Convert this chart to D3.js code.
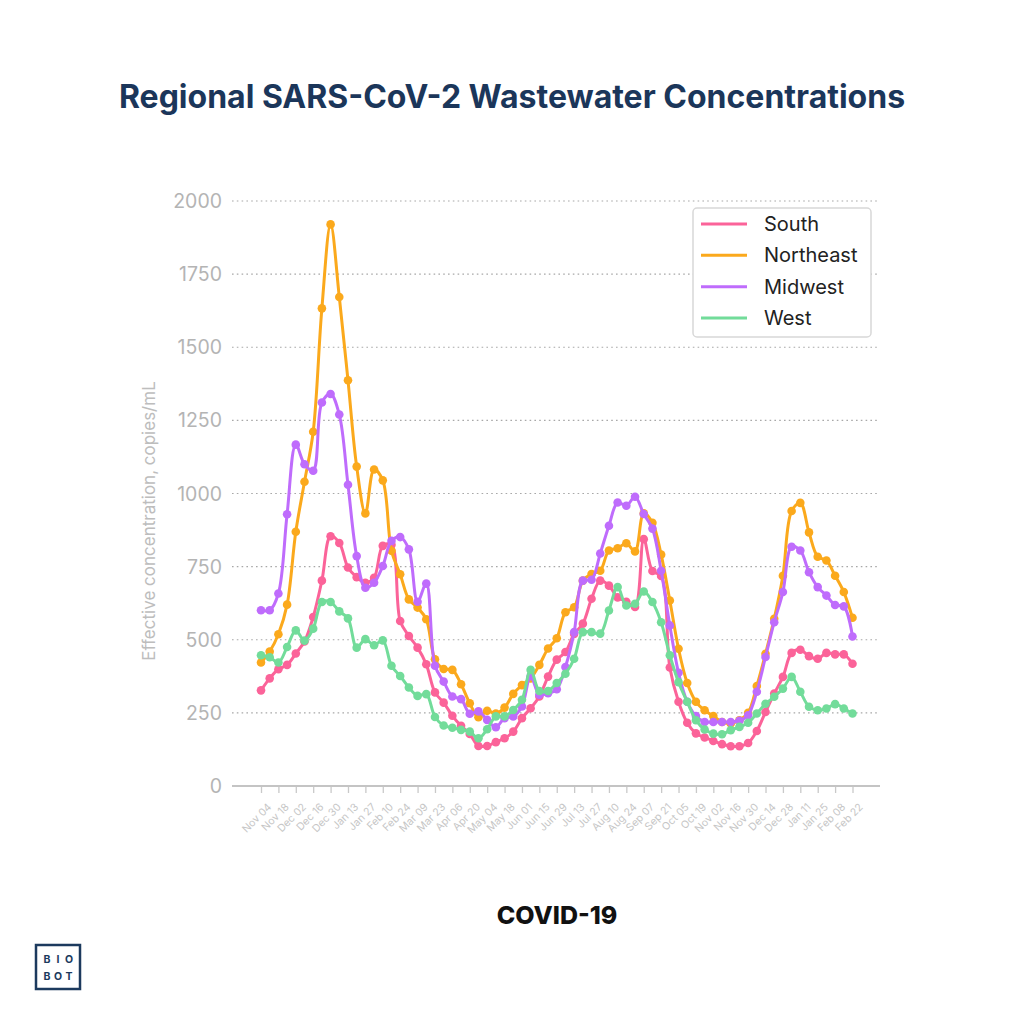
<!DOCTYPE html>
<html><head><meta charset="utf-8">
<script src="https://cdn.jsdelivr.net/npm/d3@7"></script>
<style>body{margin:0;background:#fff}svg{display:block}</style>
</head><body><svg id="c" width="1024" height="1024"></svg>
<script>
const startDate = "2023-11-04";
const weekCount = 69;
const tickLabels = ["Nov 04","Nov 18","Dec 02","Dec 16","Dec 30","Jan 13","Jan 27","Feb 10","Feb 24","Mar 09","Mar 23","Apr 06","Apr 20","May 04","May 18","Jun 01","Jun 15","Jun 29","Jul 13","Jul 27","Aug 10","Aug 24","Sep 07","Sep 21","Oct 05","Oct 19","Nov 02","Nov 16","Nov 30","Dec 14","Dec 28","Jan 11","Jan 25","Feb 08","Feb 22"];
const yTicks = [0,250,500,750,1000,1250,1500,1750,2000];
const seriesNames = ["South","Northeast","Midwest","West"];
const seriesColors = ["#fb6399","#fba91c","#bf6cfc","#72dc9a"];

const south = [327,368,399,414,453,494,578,702,854,831,747,714,695,712,821,825,564,513,473,416,
  320,285,240,206,178,137,137,150,163,186,232,266,306,374,432,458,520,555,640,702,
  685,645,630,612,844,735,718,405,288,216,180,166,154,143,136,136,147,188,253,316,
  373,455,466,444,435,455,450,450,418];
const northeast = [422,460,519,620,869,1040,1211,1633,1920,1672,1387,1092,932,1082,1045,804,724,638,610,570,
  433,400,397,348,283,235,257,248,268,315,345,368,414,470,505,594,611,702,725,736,
  805,813,830,802,932,900,791,634,469,352,288,259,239,219,214,225,250,342,452,572,
  719,940,968,867,784,771,719,663,575];
const midwest = [601,601,658,929,1167,1100,1078,1311,1340,1270,1030,786,678,695,752,838,851,809,630,692,
  411,357,306,297,247,255,226,201,232,238,272,375,312,317,331,407,526,702,705,795,
  890,969,958,989,930,880,736,549,387,288,239,219,219,219,219,223,242,322,441,560,
  663,818,805,731,680,651,619,614,511];
const west = [447,440,422,475,532,497,538,629,629,597,573,473,502,481,498,411,376,337,308,314,
  236,207,199,192,186,163,194,238,238,260,295,397,325,325,352,384,435,526,526,521,
  600,680,617,623,665,629,560,447,355,288,225,193,179,177,191,202,216,248,281,305,
  333,373,322,271,259,265,280,265,248];

const seriesValues = [south, northeast, midwest, west];
const parse = d3.timeParse("%Y-%m-%d");
const t0 = parse(startDate);
const dates = d3.range(weekCount).map(i => d3.timeDay.offset(t0, 7 * i));
const tickDates = dates.filter((d, i) => i % 2 === 0);

const svg = d3.select("#c");
const FONT = "Inter, 'Noto Sans', sans-serif";

const x = d3.scaleTime().domain([dates[0], dates[dates.length - 1]]).range([261, 852.5]);
const y = d3.scaleLinear().domain([0, 2000]).range([786, 201]);

// Title
svg.append("text").attr("x", 512).attr("y", 108).attr("text-anchor", "middle")
  .attr("font-family", FONT).attr("font-weight", 700).attr("font-size", 32)
  .attr("fill", "#1b365a").text("Regional SARS-CoV-2 Wastewater Concentrations");

// Gridlines
svg.append("g").selectAll("line").data(yTicks.filter(v => v > 0)).join("line")
  .attr("x1", 232).attr("x2", 880).attr("y1", d => y(d)).attr("y2", d => y(d))
  .attr("stroke", "#a8a8a8").attr("stroke-width", 1.2).attr("stroke-dasharray", "1.6,3.2");

// Y axis labels
svg.append("g").selectAll("text").data(yTicks).join("text")
  .attr("x", 222).attr("y", d => y(d)).attr("dy", "0.36em").attr("text-anchor", "end")
  .attr("font-family", FONT).attr("font-size", 19.5).attr("fill", "#b4b4b4").text(d => d);

// Y axis title
svg.append("text").attr("transform", "translate(155,521) rotate(-90)")
  .attr("text-anchor", "middle").attr("font-family", FONT).attr("font-size", 17)
  .attr("fill", "#bdbdbd").text("Effective concentration, copies/mL");

// X axis
const xAxis = d3.axisBottom(x).tickValues(tickDates)
  .tickFormat((d, i) => tickLabels[i]).tickSize(7).tickSizeOuter(0);
const gx = svg.append("g").attr("transform", "translate(0,786)").call(xAxis);
gx.select(".domain").remove();
gx.selectAll(".tick line").attr("stroke", "#c9c9c9").attr("stroke-width", 1.3);
gx.selectAll(".tick text")
  .attr("font-family", FONT).attr("font-size", 10.5).attr("fill", "#c6c6c6")
  .attr("text-anchor", "end").attr("dy", "0.35em").attr("y", 0).attr("x", 0)
  .attr("transform", "translate(8,19) rotate(-45)");
svg.append("line").attr("x1", 232).attr("x2", 880).attr("y1", y(0)).attr("y2", y(0))
  .attr("stroke", "#c4c4c4").attr("stroke-width", 2);

// Lines
const line = d3.line().x((d, i) => x(dates[i])).y(d => y(d)).curve(d3.curveCatmullRom.alpha(0.5));
const gs = svg.append("g").selectAll("g").data(seriesValues).join("g");
gs.append("path").attr("d", d => line(d)).attr("fill", "none")
  .attr("stroke", (d, i) => seriesColors[i]).attr("stroke-width", 3);
gs.each(function(vals, si) {
  d3.select(this).selectAll("circle").data(vals).join("circle")
    .attr("cx", (d, i) => x(dates[i])).attr("cy", d => y(d)).attr("r", 4.3)
    .attr("fill", seriesColors[si]);
});

// Legend
const lg = svg.append("g");
lg.append("rect").attr("x", 693).attr("y", 208).attr("width", 178).attr("height", 129)
  .attr("rx", 4).attr("fill", "#fff").attr("stroke", "#d8d8d8").attr("stroke-width", 1.5);
const ly = d3.scalePoint().domain(seriesNames).range([224, 318]);
seriesNames.forEach((n, i) => {
  lg.append("line").attr("x1", 701).attr("x2", 747).attr("y1", ly(n)).attr("y2", ly(n))
    .attr("stroke", seriesColors[i]).attr("stroke-width", 3);
  lg.append("text").attr("x", 764).attr("y", ly(n)).attr("dy", "0.35em")
    .attr("font-family", FONT).attr("font-size", 20).attr("fill", "#222").text(n);
});

// Bottom label
svg.append("text").attr("x", 557).attr("y", 924).attr("text-anchor", "middle")
  .attr("font-family", FONT).attr("font-weight", 800).attr("font-size", 25)
  .attr("fill", "#111").text("COVID-19");

// Logo
const logo = svg.append("g");
logo.append("rect").attr("x", 36).attr("y", 945).attr("width", 44).attr("height", 44)
  .attr("fill", "none").attr("stroke", "#1c3a5e").attr("stroke-width", 2.5);
[["B","I","O"],["B","O","T"]].forEach((row, r) => {
  row.forEach((ch, c) => {
    logo.append("text").attr("x", 47 + c * 11).attr("y", 963 + r * 17)
      .attr("text-anchor", "middle").attr("font-family", FONT).attr("font-weight", 700)
      .attr("font-size", 10.5).attr("fill", "#1c3a5e").text(ch);
  });
});
</script></body></html>
